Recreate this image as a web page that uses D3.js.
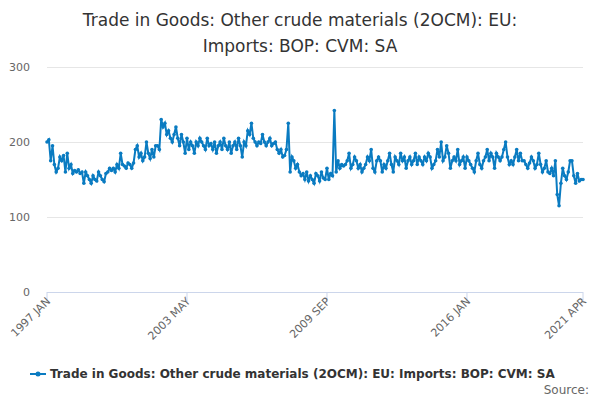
<!DOCTYPE html><html><head><meta charset="utf-8">
<script src="https://cdn.jsdelivr.net/npm/d3@7"></script>
<style>body{margin:0;background:#fff;font-family:"DejaVu Sans",sans-serif}</style></head><body>
<svg id="c" width="600" height="400"></svg>
<script>
const values = [
200,203,175,195,170,160,165,180,175,182,160,185,
165,170,158,162,160,163,158,160,145,160,155,150,
145,155,150,148,160,155,150,147,158,160,165,162,
165,160,170,165,185,170,168,165,172,170,165,172,
190,195,180,185,175,180,200,185,178,190,180,195,
195,190,230,220,225,210,215,205,200,210,220,205,
195,210,200,185,205,190,200,195,185,200,195,205,
200,195,190,205,195,198,190,200,185,195,200,190,
205,195,190,200,185,195,200,190,205,195,180,200,
195,215,210,225,205,200,195,200,198,210,200,195,
200,205,195,198,200,190,185,190,180,182,190,225,
160,180,175,165,170,160,155,158,150,160,148,155,
150,145,158,155,148,160,152,150,165,150,158,155,
242,160,175,165,170,168,170,175,185,165,170,180,
175,165,170,160,165,170,180,175,190,165,160,175,
180,175,160,170,165,175,185,170,160,180,175,170,
185,175,180,165,175,180,170,175,185,170,180,175,
170,180,175,185,180,165,170,175,190,180,200,175,
180,195,185,165,175,180,175,190,170,175,180,165,
180,175,170,165,160,175,185,170,165,175,180,190,
175,185,180,165,185,180,175,180,190,200,180,170,
175,170,180,190,175,185,175,175,170,165,172,180,
175,165,170,185,170,160,165,175,160,158,165,155,
175,130,115,145,165,155,150,160,175,175,155,145,
158,148,150,150];
const xTickIdx = [0,76,152,228,291];
const xTickLabels = ["1997 JAN","2003 MAY","2009 SEP","2016 JAN","2021 APR"];
const yTicks = [0,100,200,300];
const seriesName = "Trade in Goods: Other crude materials (2OCM): EU: Imports: BOP: CVM: SA";

const svg = d3.select("#c");
const x = d3.scaleLinear().domain([0,values.length-1]).range([47,583]);
const y = d3.scaleLinear().domain([0,300]).range([292,67]);
const title = svg.append("text").attr("text-anchor","middle").attr("font-size",17).attr("fill","#333");
title.append("tspan").attr("x",300).attr("y",26).text("Trade in Goods: Other crude materials (2OCM): EU:");
title.append("tspan").attr("x",300).attr("y",52).text("Imports: BOP: CVM: SA");
svg.selectAll(".g").data(yTicks).join("line").attr("x1",47).attr("x2",583)
 .attr("y1",d=>y(d)+.5).attr("y2",d=>y(d)+.5).attr("stroke","#e6e6e6");
svg.selectAll(".yl").data(yTicks).join("text").attr("x",30).attr("y",d=>y(d)+4)
 .attr("text-anchor","end").attr("font-size",11).attr("fill","#666").text(d=>d);
svg.append("line").attr("x1",47).attr("x2",583).attr("y1",292.5).attr("y2",292.5).attr("stroke","#ccd6eb");
svg.selectAll(".xt").data(xTickIdx).join("line").attr("x1",d=>x(d)).attr("x2",d=>x(d))
 .attr("y1",292).attr("y2",302).attr("stroke","#ccd6eb");
svg.selectAll(".xl").data(xTickIdx).join("text")
 .attr("transform",(d)=>`translate(${x(d)+4},${302}) rotate(-45)`)
 .attr("text-anchor","end").attr("font-size",11).attr("fill","#666").text((d,i)=>xTickLabels[i]);
svg.append("path").datum(values).attr("fill","none").attr("stroke","#0a7bc1").attr("stroke-width",2)
 .attr("d",d3.line().x((d,i)=>x(i)).y(d=>y(d)));
svg.selectAll(".p").data(values).join("circle").attr("cx",(d,i)=>x(i)).attr("cy",d=>y(d)).attr("r",1.8).attr("fill","#0a7bc1");
svg.append("line").attr("x1",30).attr("x2",46).attr("y1",374).attr("y2",374).attr("stroke","#0a7bc1").attr("stroke-width",2);
svg.append("circle").attr("cx",38).attr("cy",374).attr("r",2.5).attr("fill","#0a7bc1");
svg.append("text").attr("x",50).attr("y",378).attr("font-size",12).attr("font-weight","bold").attr("fill","#333").text(seriesName);
svg.append("text").attr("x",589).attr("y",394).attr("text-anchor","end").attr("font-size",12).attr("fill","#666").text("Source:");
</script></body></html>
